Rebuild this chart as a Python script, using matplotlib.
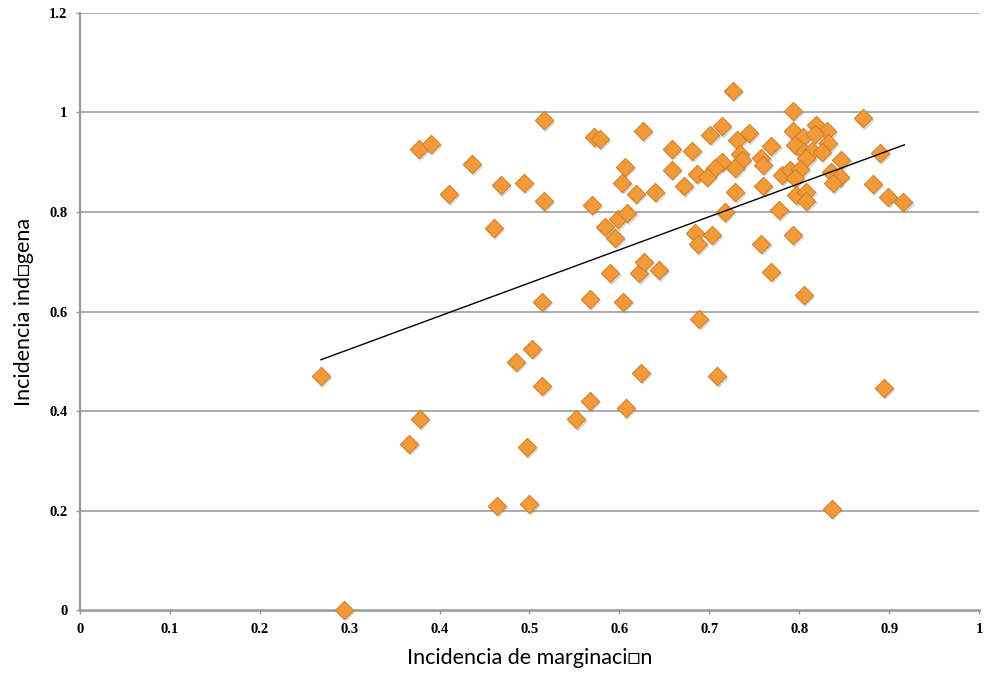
import numpy as np
import matplotlib
matplotlib.use("Agg")
import matplotlib.pyplot as plt
from matplotlib.transforms import offset_copy

# datos (marginacion vs incidencia indigena)
marginacion = [0.268, 0.294, 0.366, 0.378, 0.377, 0.390, 0.410, 0.436, 0.468, 0.494,
               0.516, 0.460, 0.516, 0.485, 0.503, 0.514, 0.497, 0.464, 0.500, 0.552,
               0.567, 0.607, 0.624, 0.514, 0.567, 0.604, 0.590, 0.622, 0.627, 0.644,
               0.572, 0.578, 0.626, 0.606, 0.603, 0.618, 0.640, 0.569, 0.584, 0.598,
               0.609, 0.595, 0.658, 0.681, 0.658, 0.686, 0.672, 0.684, 0.687, 0.689,
               0.709, 0.894, 0.836, 0.726, 0.793, 0.871, 0.714, 0.701, 0.744, 0.731,
               0.793, 0.804, 0.819, 0.831, 0.818, 0.832, 0.795, 0.769, 0.734, 0.736,
               0.805, 0.814, 0.825, 0.808, 0.847, 0.890, 0.758, 0.760, 0.714, 0.706,
               0.729, 0.697, 0.781, 0.790, 0.801, 0.795, 0.835, 0.845, 0.838, 0.760,
               0.729, 0.797, 0.808, 0.808, 0.882, 0.899, 0.916, 0.717, 0.778, 0.703,
               0.758, 0.793, 0.769, 0.805]
indigena = [0.470, 0.001, 0.334, 0.384, 0.926, 0.936, 0.836, 0.896, 0.854, 0.859,
            0.822, 0.768, 0.984, 0.499, 0.525, 0.451, 0.327, 0.210, 0.214, 0.383,
            0.421, 0.406, 0.477, 0.620, 0.625, 0.620, 0.677, 0.677, 0.700, 0.683,
            0.951, 0.946, 0.963, 0.891, 0.859, 0.837, 0.840, 0.814, 0.770, 0.785,
            0.797, 0.748, 0.926, 0.923, 0.885, 0.877, 0.852, 0.757, 0.735, 0.585,
            0.470, 0.447, 0.204, 1.044, 1.003, 0.988, 0.972, 0.955, 0.958, 0.945,
            0.962, 0.951, 0.974, 0.962, 0.956, 0.938, 0.935, 0.932, 0.916, 0.905,
            0.921, 0.923, 0.921, 0.908, 0.905, 0.918, 0.908, 0.895, 0.901, 0.889,
            0.889, 0.871, 0.874, 0.884, 0.886, 0.868, 0.881, 0.871, 0.858, 0.853,
            0.840, 0.834, 0.841, 0.822, 0.856, 0.831, 0.820, 0.799, 0.804, 0.753,
            0.736, 0.753, 0.680, 0.633]

# linea de tendencia (extremos)
tendencia_x = [0.268, 0.917]
tendencia_y = [0.503, 0.935]

xticks = np.arange(0, 1.01, 0.1)
yticks = np.arange(0, 1.21, 0.2)

def etiqueta(v):
    if abs(v) < 1e-9:
        return '0'
    if abs(v - 1) < 1e-9:
        return '1'
    return '%.1f' % v

fig = plt.figure(figsize=(9.85, 6.76), dpi=100)
ax = fig.add_axes([0.0812, 0.0976, 0.9127, 0.8832])

ax.set_xlim(0, 1)
ax.set_ylim(0, 1.2)

# grilla horizontal
for yv in yticks[1:]:
    ax.axhline(yv, color='#a6a6a6', lw=1.3, zorder=0)

# sombra de los marcadores
sombra = offset_copy(ax.transData, fig=fig, x=1.2, y=-1.6, units='points')
ax.scatter(marginacion, indigena, marker='D', s=98, color='#7a7a7a', alpha=0.3,
           edgecolors='none', transform=sombra, zorder=2, clip_on=False)
ax.scatter(marginacion, indigena, marker='D', s=88, color='#f29a38',
           edgecolors='#d07d2c', linewidths=0.7, zorder=3, clip_on=False)

ax.plot(tendencia_x, tendencia_y, color='black', lw=1.0, zorder=4)

for lado in ['top', 'right']:
    ax.spines[lado].set_visible(False)
ax.spines['left'].set_color('#999999')
ax.spines['left'].set_linewidth(1.6)
ax.spines['bottom'].set_color('#999999')
ax.spines['bottom'].set_linewidth(1.8)

ax.set_xticks(xticks)
ax.set_yticks(yticks)
ax.set_xticklabels([etiqueta(v) for v in xticks])
ax.set_yticklabels([etiqueta(v) for v in yticks])
ax.tick_params(axis='both', colors='#999999', length=3, width=1, labelcolor='black',
               labelsize=10.5, pad=6)
for lab in ax.get_xticklabels() + ax.get_yticklabels():
    lab.set_fontfamily('Liberation Serif')
    lab.set_fontweight('bold')

ax.set_xlabel('Incidencia de marginaci\u25a1n', fontsize=15.5, family=['Lato', 'DejaVu Sans'],
              labelpad=9)
ax.set_ylabel('Incidencia ind\u25a1gena', fontsize=15.5, family=['Lato', 'DejaVu Sans'],
              labelpad=11)

fig.savefig('out.png', dpi=100)
